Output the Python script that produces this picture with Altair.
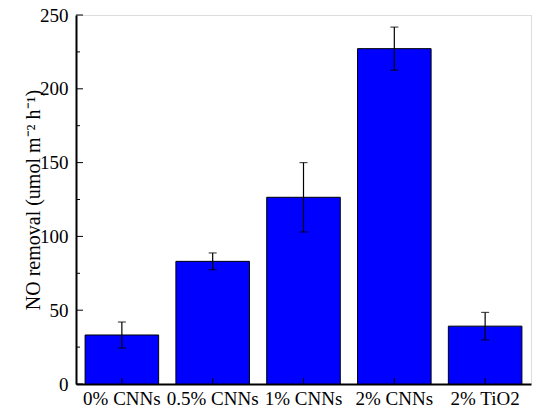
import altair as alt
import pandas as pd

categories = ["0% CNNs", "0.5% CNNs", "1% CNNs", "2% CNNs", "2% TiO2"]
values = [33.2, 83.1, 126.5, 227.2, 39.2]
errors = [8.8, 5.7, 23.5, 14.6, 9.3]
major_ticks = [0, 50, 100, 150, 200, 250]
minor_ticks = [25, 75, 125, 175, 225]

df = pd.DataFrame({"cat": categories, "val": values, "err": errors})
df["lo"] = df["val"] - df["err"]
df["hi"] = df["val"] + df["err"]

W, H = 455, 369
FONT = "Liberation Serif"

xs = alt.X("cat:N", sort=categories,
           scale=alt.Scale(paddingInner=0.19, paddingOuter=0.1),
           axis=alt.Axis(title=None, labelAngle=0, labelFontSize=19, labelFont=FONT,
                         labelColor="black", ticks=False, domainColor="black",
                         domainWidth=2, labelPadding=5))
ys = alt.Y("val:Q", scale=alt.Scale(domain=[0, 250], nice=False),
           axis=alt.Axis(title="NO removal (umol m\u207b\u00b2 h\u207b\u00b9)",
                         values=major_ticks, labelFontSize=19, labelFont=FONT,
                         labelColor="black", ticks=False, domainColor="black",
                         domainWidth=2, labelPadding=8, grid=False,
                         titleFont=FONT, titleFontSize=20, titleFontWeight="normal",
                         titleColor="black", titlePadding=-4))

base = alt.Chart(df)
bars = base.mark_bar(color="#0000FF", stroke="black", strokeWidth=1).encode(x=xs, y=ys)
err = base.mark_rule(color="black", strokeWidth=1.2).encode(
    x=alt.X("cat:N", sort=categories), y="lo:Q", y2="hi:Q")
cap_lo = base.mark_tick(color="black", size=8, thickness=1.2).encode(
    x=alt.X("cat:N", sort=categories), y="lo:Q")
cap_hi = base.mark_tick(color="black", size=8, thickness=1.2).encode(
    x=alt.X("cat:N", sort=categories), y="hi:Q")
xt = base.mark_rule(color="black", strokeWidth=1).encode(
    x=alt.X("cat:N", sort=categories), y=alt.value(H), y2=alt.value(H - 6))

maj = alt.Chart(pd.DataFrame({"t": major_ticks})).mark_rule(color="black", strokeWidth=1).encode(
    y="t:Q", x=alt.value(0), x2=alt.value(7))
mino = alt.Chart(pd.DataFrame({"t": minor_ticks})).mark_rule(color="black", strokeWidth=1).encode(
    y="t:Q", x=alt.value(0), x2=alt.value(4))

chart = alt.layer(bars, err, cap_lo, cap_hi, xt, maj, mino).properties(
    width=W, height=H,
    padding={"left": 76, "top": 15, "right": 3, "bottom": 29},
    autosize="none",
).configure_view(stroke="black", strokeWidth=1.5).configure(background="white")

chart.save("out.html", embed_options={"renderer": "svg", "actions": False})
